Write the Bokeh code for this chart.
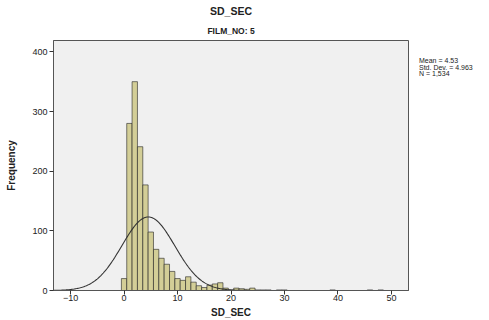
import numpy as np
from bokeh.plotting import figure
from bokeh.models import Title, Range1d, FixedTicker, ColumnDataSource, Div
from bokeh.layouts import row
from bokeh.embed import file_html
from bokeh.resources import INLINE

# ---- data ----
bin_centers = [0, 1, 2, 3, 4, 5, 6, 7, 8, 9, 10, 11, 12, 13, 14, 15, 16, 17, 18, 19,
               20, 21, 22, 23, 24, 25, 26, 27, 29, 30, 39, 46, 48]
counts = [20, 280, 350, 241, 177, 98, 69, 54, 44, 32, 20, 17, 23, 14, 8, 5, 9, 11, 13, 4,
          1, 4, 3, 2, 4, 1, 1, 1, 1, 1, 1, 1, 1]
bin_width = 1.0
mean_val = 4.53
std_val = 4.963
n_val = 1534
x_ticks = [-10, 0, 10, 20, 30, 40, 50]
y_ticks = [0, 100, 200, 300, 400]
stat_lines = ["Mean = 4.53", "Std. Dev. = 4.963", "N = 1,534"]

FONT = "Liberation Sans"

p = figure(width=409, height=320, output_backend="svg", toolbar_location=None,
           x_range=Range1d(-13.2, 53.2), y_range=Range1d(0, 419),
           min_border_left=53, min_border_right=1, min_border_top=6, min_border_bottom=30)

p.background_fill_color = "#f0f0f0"
p.border_fill_color = "white"
p.outline_line_color = "#555555"
p.outline_line_width = 1
p.grid.visible = False

src = ColumnDataSource(dict(
    left=[c - bin_width / 2 for c in bin_centers],
    right=[c + bin_width / 2 for c in bin_centers],
    top=counts,
))
p.quad(left="left", right="right", bottom=0, top="top", source=src,
       fill_color="#d3ce97", line_color="#222222", line_width=0.6)

# fitted normal curve from the displayed statistics
xs = np.linspace(-13.2, 53.2, 400)
ys = n_val * bin_width * np.exp(-0.5 * ((xs - mean_val) / std_val) ** 2) / (std_val * np.sqrt(2 * np.pi))
p.line(xs, ys, line_color="#333333", line_width=1.1)

# axes
for ax in (p.xaxis, p.yaxis):
    ax.axis_line_color = "#555555"
    ax.major_tick_line_color = "#333333"
    ax.major_tick_out = 4
    ax.major_tick_in = 0
    ax.minor_tick_line_color = None
    ax.major_label_text_font = FONT
    ax.major_label_text_font_size = "9px"
    ax.major_label_text_color = "#222222"
    ax.axis_label_text_font = FONT
    ax.axis_label_text_font_style = "bold"
    ax.axis_label_text_color = "#222222"

p.xaxis.ticker = FixedTicker(ticks=x_ticks)
p.yaxis.ticker = FixedTicker(ticks=y_ticks)
p.xaxis.axis_label = "SD_SEC"
p.yaxis.axis_label = "Frequency"
p.xaxis.axis_label_text_font_size = "10px"
p.yaxis.axis_label_text_font_size = "10px"
p.xaxis.major_label_standoff = 0
p.xaxis.axis_label_standoff = 3
p.yaxis.major_label_standoff = 2
p.yaxis.axis_label_standoff = 12

# titles: added titles sit nearest the plot, p.title is outermost
p.add_layout(Title(text="FILM_NO: 5", align="center", text_font=FONT, text_font_size="8.5px",
                   text_font_style="bold", text_color="#222222", standoff=10), "above")
p.title.text = "SD_SEC"
p.title.align = "center"
p.title.text_font = FONT
p.title.text_font_size = "10.5px"
p.title.text_font_style = "bold"
p.title.text_color = "#222222"
p.title.standoff = 4

# statistics text to the right of the plot
stats_html = "<br>".join(stat_lines)
stats = Div(text=('<div style="margin-top:53px;margin-left:5px;font-family:\'Liberation Sans\';'
                  'font-size:7px;line-height:6.5px;color:#222222;white-space:nowrap">'
                  + stats_html + '</div>'),
            width=80, height=320)

layout = row(p, stats)
open("out.html", "w").write(file_html(layout, INLINE))
